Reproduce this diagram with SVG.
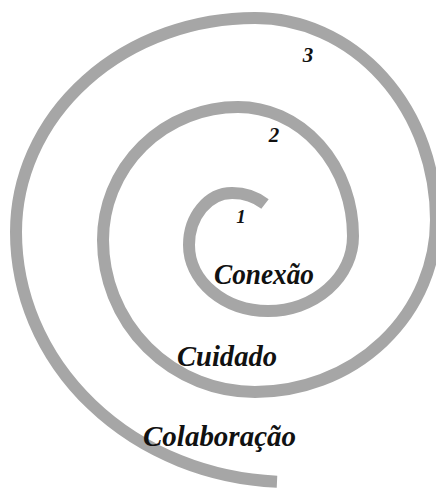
<svg xmlns="http://www.w3.org/2000/svg" width="436" height="488" viewBox="0 0 436 488">
<style>
.sp{fill:none;stroke:#a6a6a6;stroke-width:12;stroke-linecap:butt}
.lbl{font-family:"Liberation Serif","DejaVu Serif",serif;font-style:italic;font-weight:bold;fill:#111}
.big{font-size:30px}
.num{font-size:21px}
</style>
<rect width="436" height="488" fill="#fff"/>
<g id="spiral">
<path class="sp" d="M265 204 A51 47 0 0 0 232 193 A43 52 0 0 0 189 245 A79 66 0 0 0 268 311 A85 75 0 0 0 353 236 A115 129 0 0 0 238 107 A135 133 0 0 0 103 240 A152 152 0 0 0 255 392 A181 172 0 0 0 436 220 A181 202 0 0 0 255 18 A239 214 0 0 0 16 232 A274 250 0 0 0 277 481.7"/>
</g>
<g id="n1"><text class="lbl num" x="241" y="223" text-anchor="middle" style="font-size:19px">1</text></g>
<g id="n2"><text class="lbl num" x="274" y="142" text-anchor="middle">2</text></g>
<g id="n3"><text class="lbl num" x="308" y="62" text-anchor="middle">3</text></g>
<g id="conexao"><text class="lbl big" x="214" y="284" textLength="100" lengthAdjust="spacingAndGlyphs">Conexão</text></g>
<g id="cuidado"><text class="lbl big" x="177" y="366" textLength="100" lengthAdjust="spacingAndGlyphs">Cuidado</text></g>
<g id="colaboracao"><text class="lbl big" x="143" y="446" textLength="153" lengthAdjust="spacingAndGlyphs">Colaboração</text></g>
</svg>
